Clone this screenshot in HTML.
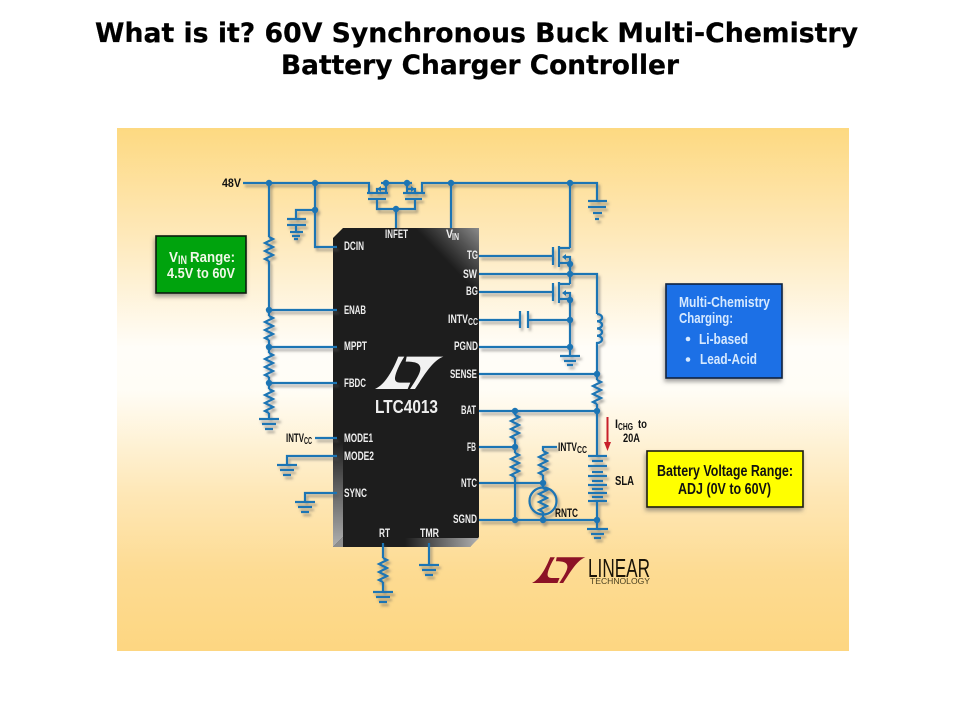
<!DOCTYPE html>
<html lang="en">
<head>
<meta charset="utf-8">
<title>LTC4013 Battery Charger Controller</title>
<style>
html,body{margin:0;padding:0;background:#fff;width:960px;height:720px;overflow:hidden}
svg{display:block}
text{font-family:"Liberation Sans Narrow","Liberation Sans",sans-serif;font-weight:bold}
.t{font-family:"DejaVu Sans",sans-serif;font-size:26.5px;fill:#000;stroke:#000;stroke-width:.25}
.w{fill:#eee;font-size:12px}
.s{fill:#eee;font-size:10px}
.k{fill:#111;font-size:12px}
.ks{fill:#111;font-size:10px}
.wire{fill:none;stroke:#1b74b4;stroke-width:2.2}
.dot{fill:#1b74b4}
</style>
</head>
<body>
<svg width="960" height="720" viewBox="0 0 960 720" xmlns="http://www.w3.org/2000/svg">
<defs>
<linearGradient id="bg" x1="0" y1="0" x2="0" y2="1">
<stop offset="0" stop-color="#fdd981"/>
<stop offset=".2" stop-color="#fee8b8"/>
<stop offset=".42" stop-color="#fffdf8"/>
<stop offset=".5" stop-color="#fffdf6"/>
<stop offset=".7" stop-color="#fee7b6"/>
<stop offset=".85" stop-color="#fddb92"/>
<stop offset="1" stop-color="#fdd681"/>
</linearGradient>
<linearGradient id="gloss" gradientUnits="userSpaceOnUse" x1="479" y1="228" x2="445.5" y2="260">
<stop offset="0" stop-color="#8a8a8a"/>
<stop offset=".45" stop-color="#555"/>
<stop offset="1" stop-color="#1d1d1d"/>
</linearGradient>
<linearGradient id="bevL" x1="0" y1="0" x2="0" y2="1">
<stop offset="0" stop-color="#1d1d1d"/>
<stop offset="1" stop-color="#b0b0b0"/>
</linearGradient>
<linearGradient id="bevB" x1="0" y1="0" x2="1" y2="0">
<stop offset="0" stop-color="#1d1d1d"/>
<stop offset="1" stop-color="#b0b0b0"/>
</linearGradient>
<filter id="sh" x="-10%" y="-10%" width="120%" height="120%">
<feDropShadow dx="2" dy="3" stdDeviation="1.2" flood-color="#555" flood-opacity=".5"/>
</filter>
<filter id="bs" x="-10%" y="-10%" width="120%" height="125%">
<feDropShadow dx="-1" dy="3" stdDeviation="2" flood-color="#555" flood-opacity=".55"/>
</filter>
<path id="lt" d="M30,132 C62,118 85,72 100,35 L118,35 C105,55 92,82 90,98 C89,108 95,113 105,113 L136,113 L128,132 Z M125,35 L235,35 C200,48 172,100 150,132 L135,132 C150,108 168,85 166,68 C164,54 150,50 122,50 Z"/>
<path id="r" d="M0,0 l4,2 l-8,4 l8,4 l-8,4 l8,4 l-8,4 l4,2" fill="none" stroke="#1b74b4" stroke-width="2.2"/>
<g id="g"><path d="M-10,0 H10 M-7,5 H7 M-4,10 H4" fill="none" stroke="#1b74b4" stroke-width="2.2"/></g>
</defs>

<rect width="960" height="720" fill="#fff"/>
<text class="t" x="95" y="42" textLength="763" lengthAdjust="spacingAndGlyphs">What is it? 60V Synchronous Buck Multi-Chemistry</text>
<text class="t" x="281" y="74" textLength="398" lengthAdjust="spacingAndGlyphs">Battery Charger Controller</text>

<rect x="117" y="128" width="732" height="523" fill="url(#bg)"/>

<!-- IC body -->
<polygon points="343,228 479,228 479,537 470,547 333,547 333,238" fill="#1d1d1d"/>
<polygon points="479,228 415,228 479,295" fill="url(#gloss)"/>
<polygon points="333,440 343,440 343,537 333,547" fill="url(#bevL)"/>
<polygon points="405,538 479,538 470,547 405,547" fill="url(#bevB)"/>
<polygon points="333,547 343,537 343,547" fill="#8d8d8d"/>

<!-- Wires -->
<g filter="url(#sh)">
<path class="wire" d="M243,183 H369 V193 M381,183 H412 M386,183 V193 M377,193 V189 H386 M407,183 V193 M415,193 V189 H407 M422,193 V183 H597 V201"/>
<path class="dot" d="M381,186 L377,189 L381,192 Z M411,186 L415,189 L411,192 Z"/>
<path class="wire" d="M367,193 H388 M368,199 H386 M403,193 H425 M405,199 H422 M377,199 V209 H415 V199 M396,209 V228"/>
<path class="wire" d="M451,183 V228"/>
<path class="wire" d="M315,183 V247 H337 M315,210 H296 V219"/>
<path class="wire" d="M287,219 H306 M287,225 H306 M296,225 V232 M290,232 H303 M292,236 H300 M294,239 H298"/>
<path class="wire" d="M588,201 H607 M588,207 H606 M593,213 H602 M595,219 H599"/>

<path class="wire" d="M269,183 V237 M269,261 V316 M269,340 V353 M269,377 V389 M269,413 V419"/>
<use href="#r" x="269" y="237"/><use href="#r" x="269" y="316"/><use href="#r" x="269" y="353"/><use href="#r" x="269" y="389"/>
<use href="#g" x="269" y="419"/>
<path class="wire" d="M269,310 H337 M269,347 H337 M269,383 H337 M315,438 H337 M337,456 H287 V465 M337,493 H305 V502"/>
<use href="#g" x="287" y="465"/><use href="#g" x="305" y="502"/>
<path class="wire" d="M383,543 V558 M383,582 V592 M429,543 V565"/>
<use href="#r" x="383" y="558"/><use href="#g" x="383" y="592"/><use href="#g" x="429" y="565"/>

<!-- Right side -->
<path class="wire" d="M479,256 H553 M553,247 V265 M559,246 V267 M559,248 H570 M570,183 V248 M559,263 H570 M565,257 H570 V274"/>
<path class="dot" d="M566,254 L562,257 L566,260 Z M566,290 L562,293 L566,296 Z"/>
<path class="wire" d="M479,274 H597 V314 M570,264 V284"/>
<path class="wire" d="M479,292 H553 M553,283 V301 M559,282 V303 M559,284 H570 M559,299 H570 M565,293 H570 V347 V356"/>
<path class="wire" d="M479,320 H520 M528,320 H570 M520,311 V328 M528,311 V328 M479,347 H570"/>
<path class="wire" d="M560,356 H580 M564,361 H576 M567,365 H573"/>
<path class="wire" d="M597,314 a5,3.6 0 0 1 0,7.25 a5,3.6 0 0 1 0,7.25 a5,3.6 0 0 1 0,7.25 a5,3.6 0 0 1 0,7.25 V380 M479,374 H597 M597,404 V456"/>
<use href="#r" x="597" y="380"/>
<path class="wire" d="M479,411 H597 M515,411 V415 M515,439 V453 M515,477 V520 M479,447 H515 M479,483 H543 M479,520 H597"/>
<use href="#r" x="515" y="415"/><use href="#r" x="515" y="453"/>
<path class="wire" d="M557,447 H543 V451 M543,475 V488 M543,512 V520"/>
<use href="#r" x="543" y="451"/><use href="#r" x="543" y="488"/>
<circle class="wire" cx="543" cy="501" r="13.5"/>
<path class="wire" d="M588,456 H607 M592,461 H603 M588,466 H607 M592,472 H603 M588,476 H607 M592,481 H603 M588,485 H607 M592,489 H603 M588,493 H607 M592,497 H603 M588,501 H607 M597,501 V529"/>
<path class="wire" d="M587,529 H608 M591,534 H604 M594,538 H601"/>

<g class="dot">
<circle cx="269" cy="183" r="3.2"/><circle cx="315" cy="183" r="3.2"/><circle cx="386" cy="183" r="3.2"/><circle cx="407" cy="183" r="3.2"/><circle cx="451" cy="183" r="3.2"/><circle cx="570" cy="183" r="3.2"/>
<circle cx="315" cy="210" r="3.2"/><circle cx="396" cy="209" r="3.2"/>
<circle cx="269" cy="310" r="3.2"/><circle cx="269" cy="347" r="3.2"/><circle cx="269" cy="383" r="3.2"/>
<circle cx="570" cy="264" r="3.2"/><circle cx="570" cy="274" r="3.2"/><circle cx="570" cy="300" r="3.2"/><circle cx="570" cy="320" r="3.2"/><circle cx="570" cy="347" r="3.2"/>
<circle cx="597" cy="374" r="3.2"/><circle cx="597" cy="411" r="3.2"/><circle cx="515" cy="411" r="3.2"/><circle cx="515" cy="447" r="3.2"/><circle cx="543" cy="483" r="3.2"/><circle cx="515" cy="520" r="3.2"/><circle cx="543" cy="520" r="3.2"/><circle cx="597" cy="520" r="3.2"/>
</g>
</g>

<!-- Red arrow -->
<path d="M607.5,417 V443" stroke="#c8202a" stroke-width="2" fill="none"/>
<polygon points="604,442 611,442 607.5,451" fill="#c8202a"/>

<!-- Pin labels -->
<text class="w" x="385" y="238" textLength="23" lengthAdjust="spacingAndGlyphs">INFET</text>
<text class="w" x="446" y="238" textLength="7" lengthAdjust="spacingAndGlyphs">V</text>
<text class="s" x="452" y="240" textLength="7" lengthAdjust="spacingAndGlyphs">IN</text>
<text class="w" x="344" y="250" textLength="20" lengthAdjust="spacingAndGlyphs">DCIN</text>
<text class="w" x="467" y="259" textLength="11" lengthAdjust="spacingAndGlyphs">TG</text>
<text class="w" x="463" y="278" textLength="14" lengthAdjust="spacingAndGlyphs">SW</text>
<text class="w" x="466" y="295" textLength="12" lengthAdjust="spacingAndGlyphs">BG</text>
<text class="w" x="448" y="323" textLength="20" lengthAdjust="spacingAndGlyphs">INTV</text>
<text class="s" x="468" y="325" textLength="10" lengthAdjust="spacingAndGlyphs">CC</text>
<text class="w" x="344" y="314" textLength="22" lengthAdjust="spacingAndGlyphs">ENAB</text>
<text class="w" x="344" y="350" textLength="23" lengthAdjust="spacingAndGlyphs">MPPT</text>
<text class="w" x="454" y="350" textLength="24" lengthAdjust="spacingAndGlyphs">PGND</text>
<text class="w" x="450" y="378" textLength="27" lengthAdjust="spacingAndGlyphs">SENSE</text>
<text class="w" x="461" y="414" textLength="15" lengthAdjust="spacingAndGlyphs">BAT</text>
<text class="w" x="467" y="451" textLength="9" lengthAdjust="spacingAndGlyphs">FB</text>
<text class="w" x="461" y="487" textLength="16" lengthAdjust="spacingAndGlyphs">NTC</text>
<text class="w" x="453" y="523" textLength="24" lengthAdjust="spacingAndGlyphs">SGND</text>
<text class="w" x="344" y="387" textLength="22" lengthAdjust="spacingAndGlyphs">FBDC</text>
<text class="w" x="344" y="442" textLength="29" lengthAdjust="spacingAndGlyphs">MODE1</text>
<text class="w" x="344" y="460" textLength="30" lengthAdjust="spacingAndGlyphs">MODE2</text>
<text class="w" x="344" y="497" textLength="23" lengthAdjust="spacingAndGlyphs">SYNC</text>
<text class="w" x="379" y="537" textLength="11" lengthAdjust="spacingAndGlyphs">RT</text>
<text class="w" x="420" y="537" textLength="19" lengthAdjust="spacingAndGlyphs">TMR</text>
<text x="375" y="413" font-size="18" fill="#eee" textLength="63" lengthAdjust="spacingAndGlyphs">LTC4013</text>

<!-- IC logo -->
<use href="#lt" transform="translate(365,345) scale(.3333)" fill="#f2f2f2"/>

<!-- Black labels -->
<text class="k" x="222" y="187" textLength="19" lengthAdjust="spacingAndGlyphs">48V</text>
<text class="k" x="286" y="442" textLength="18" lengthAdjust="spacingAndGlyphs">INTV</text>
<text class="ks" x="304" y="444" textLength="8" lengthAdjust="spacingAndGlyphs">CC</text>
<text class="k" x="558" y="451" textLength="19" lengthAdjust="spacingAndGlyphs">INTV</text>
<text class="ks" x="577" y="453" textLength="10" lengthAdjust="spacingAndGlyphs">CC</text>
<text x="615" y="485" font-size="13" fill="#111" textLength="19" lengthAdjust="spacingAndGlyphs">SLA</text>
<text class="k" x="555" y="517" textLength="23" lengthAdjust="spacingAndGlyphs">RNTC</text>
<text class="k" x="615" y="428" textLength="3" lengthAdjust="spacingAndGlyphs">I</text>
<text class="ks" x="618" y="430" textLength="15" lengthAdjust="spacingAndGlyphs">CHG</text>
<text class="k" x="638" y="428" textLength="9" lengthAdjust="spacingAndGlyphs">to</text>
<text class="k" x="623" y="442" textLength="17" lengthAdjust="spacingAndGlyphs">20A</text>

<!-- Green box -->
<rect x="156" y="236" width="90" height="57" fill="#02a30f" stroke="#0b1a0b" stroke-width="1.6" filter="url(#bs)"/>
<text x="169" y="262" font-size="15" fill="#f0f8e8" textLength="9" lengthAdjust="spacingAndGlyphs">V</text>
<text x="178" y="264" font-size="12" fill="#f0f8e8" textLength="9" lengthAdjust="spacingAndGlyphs">IN</text>
<text x="190" y="262" font-size="15" fill="#f0f8e8" textLength="45" lengthAdjust="spacingAndGlyphs">Range:</text>
<text x="167" y="278" font-size="15" fill="#f0f8e8" textLength="68" lengthAdjust="spacingAndGlyphs">4.5V to 60V</text>

<!-- Blue box -->
<rect x="666" y="284" width="116" height="94" fill="#1a6fe6" stroke="#10243f" stroke-width="1.6" filter="url(#bs)"/>
<text x="679" y="307" font-size="15" fill="#d6e9ff" textLength="91" lengthAdjust="spacingAndGlyphs">Multi-Chemistry</text>
<text x="679" y="323" font-size="15" fill="#d6e9ff" textLength="54" lengthAdjust="spacingAndGlyphs">Charging:</text>
<text x="699" y="344" font-size="15" fill="#d6e9ff" textLength="49" lengthAdjust="spacingAndGlyphs">Li-based</text>
<text x="700" y="364" font-size="15" fill="#d6e9ff" textLength="57" lengthAdjust="spacingAndGlyphs">Lead-Acid</text>
<circle cx="688" cy="339" r="2.3" fill="#d6e9ff"/>
<circle cx="688" cy="359.5" r="2.3" fill="#d6e9ff"/>

<!-- Yellow box -->
<rect x="647" y="451" width="156" height="56" fill="#ffff00" stroke="#1a1a10" stroke-width="1.6" filter="url(#bs)"/>
<text x="657" y="476" font-size="16" fill="#111" textLength="136" lengthAdjust="spacingAndGlyphs">Battery Voltage Range:</text>
<text x="678" y="494" font-size="16" fill="#111" textLength="93" lengthAdjust="spacingAndGlyphs">ADJ (0V to 60V)</text>

<!-- Linear logo -->
<use href="#lt" transform="translate(524.2,548) scale(.26,.265)" fill="#8c1226"/>
<text x="588" y="577" font-size="26" fill="#1a1408" style="font-weight:normal" textLength="62" lengthAdjust="spacingAndGlyphs">LINEAR</text>
<text x="590" y="584" font-size="8" fill="#4a4020" style="font-weight:normal" textLength="60" lengthAdjust="spacingAndGlyphs">TECHNOLOGY</text>
</svg>
</body>
</html>
